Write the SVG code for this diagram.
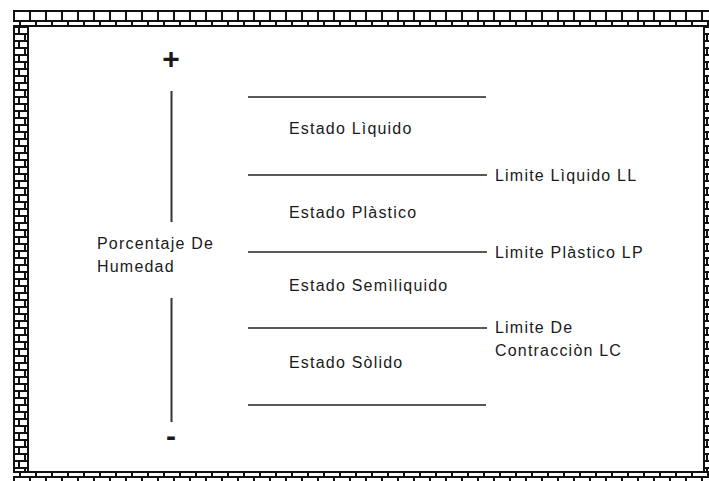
<svg xmlns="http://www.w3.org/2000/svg" width="709" height="481" viewBox="0 0 709 481">
<style>
text{font-family:"Liberation Sans",Arial,sans-serif;font-size:16px;letter-spacing:1.2px;fill:#1a1a1a}
.sign{font-weight:bold;font-size:30px;letter-spacing:0}
.ln{stroke:#222;stroke-width:1.5;fill:none}
.ax{stroke:#333;stroke-width:2;fill:none}
</style>
<defs>
<pattern id="top" patternUnits="userSpaceOnUse" x="13" y="10" width="16" height="17">
<rect width="16" height="17" fill="#111"/>
<rect x="2" y="2" width="14" height="8" fill="#fff"/>
<rect x="0" y="12" width="6" height="3" fill="#fff"/>
<rect x="8" y="12" width="8" height="3" fill="#fff"/>
</pattern>
<pattern id="bot" patternUnits="userSpaceOnUse" x="13" y="471" width="16" height="17">
<rect width="16" height="17" fill="#111"/>
<rect x="0" y="2" width="6" height="3" fill="#fff"/>
<rect x="8" y="2" width="8" height="3" fill="#fff"/>
<rect x="2" y="7" width="14" height="8" fill="#fff"/>
</pattern>
<pattern id="left" patternUnits="userSpaceOnUse" x="13" y="27" width="16" height="14">
<rect width="16" height="14" fill="#111"/>
<rect x="2" y="1" width="3" height="5" fill="#fff"/>
<rect x="7" y="1" width="7" height="5" fill="#fff"/>
<rect x="2" y="8" width="9" height="5" fill="#fff"/>
<rect x="13" y="8" width="1" height="5" fill="#fff"/>
</pattern>
<pattern id="right" patternUnits="userSpaceOnUse" x="703" y="27" width="16" height="14">
<rect width="16" height="14" fill="#111"/>
<rect x="2" y="1" width="7" height="5" fill="#fff"/>
<rect x="11" y="1" width="3" height="5" fill="#fff"/>
<rect x="2" y="8" width="1" height="5" fill="#fff"/>
<rect x="5" y="8" width="9" height="5" fill="#fff"/>
</pattern>
</defs>
<rect width="709" height="481" fill="#fff"/>
<g id="frame">
<rect x="13" y="10" width="16" height="480" fill="url(#left)"/>
<rect x="703" y="10" width="16" height="480" fill="url(#right)"/>
<rect x="13" y="10" width="710" height="17" fill="url(#top)"/>
<rect x="13" y="471" width="710" height="17" fill="url(#bot)"/>
</g>
<g id="connectors">
<line class="ax" x1="171.5" y1="91" x2="171.5" y2="222"/>
<line class="ax" x1="171.5" y1="298" x2="171.5" y2="422"/>
<line class="ln" x1="248" y1="97" x2="486" y2="97"/>
<line class="ln" x1="248" y1="175" x2="487" y2="175"/>
<line class="ln" x1="248" y1="252" x2="487" y2="252"/>
<line class="ln" x1="248" y1="328" x2="487" y2="328"/>
<line class="ln" x1="248" y1="405" x2="486" y2="405"/>
</g>
<g id="plus"><text class="sign" x="171" y="69" text-anchor="middle">+</text></g>
<g id="minus"><text class="sign" x="171" y="446" text-anchor="middle">-</text></g>
<g id="axis-label">
<text x="97" y="249">Porcentaje De</text>
<text x="97" y="272">Humedad</text>
</g>
<g id="estado-liquido"><text x="289" y="134">Estado Lìquido</text></g>
<g id="estado-plastico"><text x="289" y="218">Estado Plàstico</text></g>
<g id="estado-semiliquido"><text x="289" y="291">Estado Semìliquido</text></g>
<g id="estado-solido"><text x="289" y="368">Estado Sòlido</text></g>
<g id="limite-liquido"><text x="495" y="181">Limite Lìquido LL</text></g>
<g id="limite-plastico"><text x="495" y="258">Limite Plàstico LP</text></g>
<g id="limite-contraccion">
<text x="495" y="333">Limite De</text>
<text x="495" y="356">Contracciòn LC</text>
</g>
</svg>
